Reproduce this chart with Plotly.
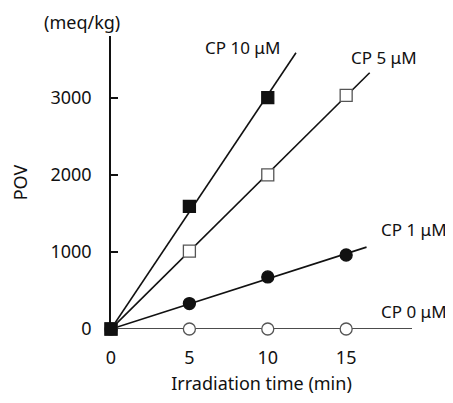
import numpy as np
import plotly.graph_objects as go

# Irradiation time (min)
time = [0, 5, 10, 15]

# POV (meq/kg) for each CP concentration
cp10 = [0, 1590, 3000]
cp5 = [0, 1010, 2000, 3030]
cp1 = [0, 330, 675, 960]
cp0 = [0, 0, 0, 0]

# how far each fitted line is drawn (min)
fit_end = {"CP 10": 11.8, "CP 5": 16.5, "CP 1": 16.3, "CP 0": 19.2}

FONT = "Noto Sans"
BLACK = "#111111"
GREY = "#555555"

# plot area in page pixels (the page body adds an 8px margin)
PAGE_OFF = 8
W, H = 453 - PAGE_OFF, 403 - PAGE_OFF
X0, X1, Y0, Y1 = 99, 412, 36, 335


def fit_line(y, x_end):
    # least squares through the origin
    x = np.array(time[:len(y)], dtype=float)
    slope = float(np.dot(x, y) / np.dot(x, x))
    return [0, x_end], [0, slope * x_end]


def paper(px, py):
    return (px - X0) / (X1 - X0), (Y1 - py) / (Y1 - Y0)


series = [
    ("CP 10", cp10, "square", BLACK, BLACK),
    ("CP 5", cp5, "square", "white", GREY),
    ("CP 1", cp1, "circle", BLACK, BLACK),
    ("CP 0", cp0, "circle", "white", GREY),
]

fig = go.Figure()

for name, y, symbol, fill, edge in series:
    lx, ly = fit_line(y, fit_end[name])
    fig.add_trace(go.Scatter(x=lx, y=ly, mode="lines", line=dict(color=BLACK, width=1.6),
                             cliponaxis=False, hoverinfo="skip", showlegend=False))

# reversed so the filled CP 10 square ends up on top at the origin
for name, y, symbol, fill, edge in reversed(series):
    fig.add_trace(go.Scatter(
        x=time[:len(y)], y=y, mode="markers", name=name, cliponaxis=False,
        marker=dict(symbol=symbol, size=12, color=fill, line=dict(color=edge, width=1.3)),
        showlegend=False,
    ))

labels = [
    ("CP 10 \u03bcM", 195, 48, 17),
    ("CP 5 \u03bcM", 347, 58, 17),
    ("CP 1 \u03bcM", 378, 233, 17),
    ("CP 0 \u03bcM", 378, 317, 17),
    ("(meq/kg)", 27, 22, 18),
]
for text, px, py, size in labels:
    ax, ay = paper(px, py)
    fig.add_annotation(x=ax, y=ay, xref="paper", yref="paper", xanchor="left", yanchor="middle",
                       text=text, showarrow=False, font=dict(family=FONT, size=size, color=BLACK))

fig.update_layout(
    width=W, height=H,
    margin=dict(l=X0 - PAGE_OFF, r=W - (X1 - PAGE_OFF), t=Y0 - PAGE_OFF, b=H - (Y1 - PAGE_OFF)),
    paper_bgcolor="white", plot_bgcolor="white",
    font=dict(family=FONT, size=18, color=BLACK),
    xaxis=dict(range=[0, 19.2], tickvals=[0, 5, 10, 15], showgrid=False, zeroline=False, showline=False,
               ticks="", ticklabelstandoff=16,
               title=dict(text="Irradiation time (min)", standoff=9, font=dict(size=18))),
    yaxis=dict(range=[0, 3800], tickvals=[0, 1000, 2000, 3000], showgrid=False, zeroline=False,
               showline=True, linecolor=BLACK, linewidth=1.6,
               ticks="inside", ticklen=7, tickwidth=1.6, tickcolor=BLACK, ticklabelstandoff=14,
               title=dict(text="POV", standoff=18, font=dict(size=18))),
)

fig.write_html("out.html")
